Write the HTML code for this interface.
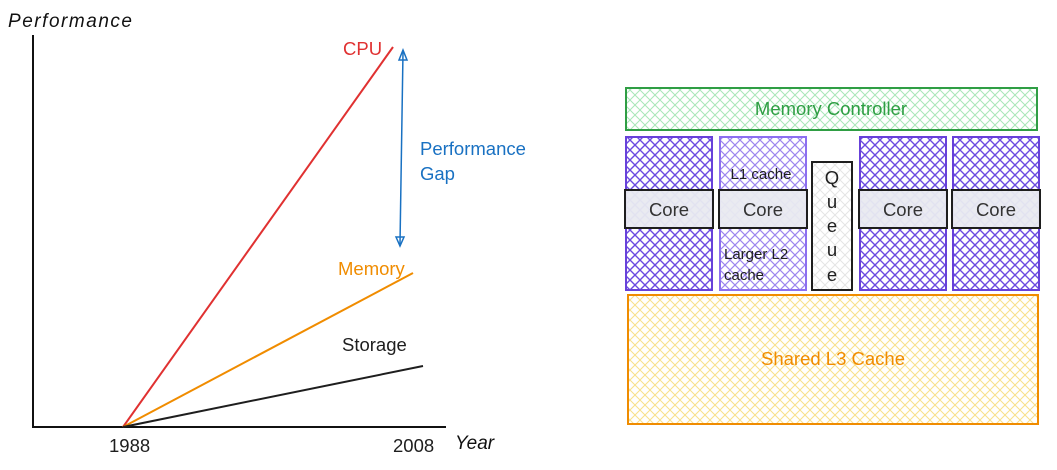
<!DOCTYPE html>
<html><head><meta charset="utf-8"><style>
body{margin:0;background:#fff;}
svg text{font-family:"Liberation Sans",sans-serif;}
</style></head><body>
<svg width="1057" height="465" viewBox="0 0 1057 465" xmlns="http://www.w3.org/2000/svg">
<defs>
<pattern id="hg" width="10" height="10" patternUnits="userSpaceOnUse"><path d="M0 0L10 10M10 0L0 10" stroke="#a8e6b8" stroke-width="1"/></pattern>
<pattern id="hp" width="10" height="10" patternUnits="userSpaceOnUse"><path d="M0 0L10 10M10 0L0 10" stroke="#6a4be0" stroke-width="1.4"/></pattern>
<pattern id="hp2" width="10" height="10" patternUnits="userSpaceOnUse"><path d="M0 0L10 10M10 0L0 10" stroke="#9c86ee" stroke-width="1.2"/></pattern>
<pattern id="hy" width="10" height="10" patternUnits="userSpaceOnUse"><path d="M0 0L10 10M10 0L0 10" stroke="#f7e08a" stroke-width="1"/></pattern>
<pattern id="hq" width="10" height="10" patternUnits="userSpaceOnUse"><path d="M0 0L10 10M10 0L0 10" stroke="#e4e4e4" stroke-width="1"/></pattern>
</defs>
<!-- chart -->
<text x="8" y="27" font-size="19" font-style="italic" fill="#111" textLength="124">Performance</text>
<line x1="33" y1="35" x2="33" y2="427" stroke="#111" stroke-width="2"/>
<line x1="32" y1="427" x2="446" y2="427" stroke="#111" stroke-width="2"/>
<line x1="123" y1="427" x2="393" y2="47" stroke="#e03131" stroke-width="2"/>
<line x1="123" y1="427" x2="413" y2="273" stroke="#f08c00" stroke-width="2"/>
<line x1="123" y1="427" x2="423" y2="366" stroke="#1e1e1e" stroke-width="2"/>
<line x1="403" y1="52" x2="400" y2="244" stroke="#1971c2" stroke-width="1.5"/>
<path d="M399 60L403 50L407 60Z" fill="none" stroke="#1971c2" stroke-width="1.5"/>
<path d="M396 237L400 246L404 237Z" fill="none" stroke="#1971c2" stroke-width="1.5"/>
<g font-size="18.5">
<text x="343" y="55" fill="#e03131">CPU</text>
<text x="420" y="155" fill="#1971c2">Performance</text>
<text x="420" y="180" fill="#1971c2">Gap</text>
<text x="338" y="275" fill="#f08c00">Memory</text>
<text x="342" y="351" fill="#1e1e1e">Storage</text>
<text x="109" y="452" fill="#1e1e1e">1988</text>
<text x="393" y="452" fill="#1e1e1e">2008</text>
</g>
<text x="455" y="449" font-size="19" font-style="italic" fill="#111">Year</text>
<!-- architecture -->
<rect x="626" y="88" width="411" height="42" fill="url(#hg)" stroke="#2f9e44" stroke-width="2"/>
<text x="831" y="115" font-size="18.5" fill="#2f9e44" text-anchor="middle">Memory Controller</text>
<rect x="626" y="137" width="86" height="153" fill="url(#hp)" stroke="#6741d9" stroke-width="2"/>
<rect x="720" y="137" width="86" height="153" fill="url(#hp2)" stroke="#8c6ff0" stroke-width="2"/>
<rect x="860" y="137" width="86" height="153" fill="url(#hp)" stroke="#6741d9" stroke-width="2"/>
<rect x="953" y="137" width="86" height="153" fill="url(#hp)" stroke="#6741d9" stroke-width="2"/>
<rect x="812" y="162" width="40" height="128" fill="url(#hq)" stroke="#1e1e1e" stroke-width="2"/>
<g font-size="18.5" fill="#1e1e1e" text-anchor="middle">
<text x="832" y="184">Q</text><text x="832" y="208">u</text><text x="832" y="232">e</text><text x="832" y="256">u</text><text x="832" y="281">e</text>
</g>
<g fill="#e9eaf0" stroke="#1e1e1e" stroke-width="2" fill-opacity="0.95">
<rect x="625" y="190" width="88" height="38"/>
<rect x="719" y="190" width="88" height="38"/>
<rect x="859" y="190" width="88" height="38"/>
<rect x="952" y="190" width="88" height="38"/>
</g>
<g font-size="18.5" fill="#333" text-anchor="middle">
<text x="669" y="216">Core</text><text x="763" y="216">Core</text><text x="903" y="216">Core</text><text x="996" y="216">Core</text>
</g>
<text x="761" y="179" font-size="15" fill="#1e1e1e" text-anchor="middle">L1 cache</text>
<text x="724" y="259" font-size="15" fill="#1e1e1e">Larger L2</text>
<text x="724" y="280" font-size="15" fill="#1e1e1e">cache</text>
<rect x="628" y="295" width="410" height="129" fill="url(#hy)" stroke="#f08c00" stroke-width="2"/>
<text x="833" y="365" font-size="18.5" fill="#f08c00" text-anchor="middle">Shared L3 Cache</text>
</svg>
</body></html>
